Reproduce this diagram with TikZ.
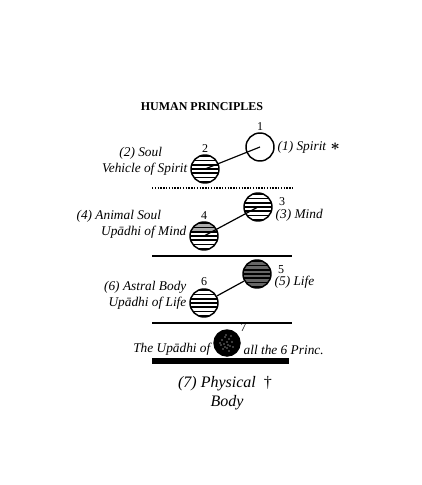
\documentclass[tikz,border=0pt]{standalone}
\usepackage{fontspec}
\setmainfont{Liberation Serif}
\usetikzlibrary{positioning}
\newcommand{\orbstripes}{%
  \foreach \k in {-3,...,3}
    \draw[line width=1pt] ([yshift=\k*3.1pt]path picture bounding box.west)
      -- ([yshift=\k*3.1pt]path picture bounding box.east);}
\tikzset{
  orb/.style     = {circle, draw, line width=1.1pt, minimum size=21pt, inner sep=0pt, fill=white},
  striped/.style = {orb, path picture={\orbstripes}},
  capped/.style  = {orb, path picture={
                     \fill[gray!65] (path picture bounding box.north west)
                       rectangle ([yshift=-6.5pt]path picture bounding box.north east);
                     \orbstripes}},
  dark/.style    = {orb, fill=gray!80!black, path picture={\orbstripes}},
  dense/.style   = {orb, fill=black, minimum size=19.5pt, path picture={
                     \foreach \dx/\dy in {-5/3,-2/6,2/4,5/1,-6/-2,-3/-1,0/1,3/-3,6/-4,
                                          -4/-6,0/-5,2/-8,-1/8,4/7,-7/0,1/-2,-2/-4}
                       \fill[white] ([shift={(\dx*0.75pt,\dy*0.75pt)}]path picture bounding box.center) circle (0.45pt);}},
  lab/.style     = {font=\normalsize\itshape, inner sep=1pt},
  num/.style     = {font=\small, inner sep=0.5pt},
  link/.style    = {line width=0.9pt},
  rule/.style    = {line width=1.1pt}
}
\begin{document}
\begin{tikzpicture}[x=0.75pt,y=-0.75pt]
    \useasboundingbox (0,0) rectangle (421,485);
    \node[font=\small\bfseries] (title) at (202,107) {HUMAN PRINCIPLES};
    % spirit and soul
    \node[orb] (c1) at (260,147) {};
    \node[striped] (c2) at (205,169) {};
    \draw[link] (c1.center)--(c2.center);
    \node[num,above=1pt of c1] (n1) {1};
    \node[num,above=1pt of c2] (n2) {2};
    \node[lab,right=1pt of c1] (spirit) {(1) Spirit\,\,{\large\boldmath$\ast$}};
    \node[lab,left=1pt of c2] (vehicle) {Vehicle of Spirit};
    \node[lab,anchor=south east] (soul) at ([xshift=-19pt,yshift=0pt]vehicle.north east) {(2) Soul};
    \draw[rule,densely dotted] (152,188)--(293,188);
    % mind
    \node[striped] (c3) at (258,207) {};
    \node[capped] (c4) at (204,236) {};
    \draw[link] (c3.center)--(c4.center);
    \node[lab,anchor=west] (mind) at ([xshift=1pt,yshift=-6pt]c3.east) {(3) Mind};
    \node[num,anchor=south west] (n3) at ([xshift=3pt,yshift=0.5pt]mind.north west) {3};
    \node[num,above=1pt of c4] (n4) {4};
    \node[lab,anchor=east] (updmind) at ([xshift=-1pt,yshift=3pt]c4.west) {Upādhi of Mind};
    \node[lab,anchor=south east] (animal) at ([xshift=-19pt,yshift=0pt]updmind.north east) {(4) Animal Soul};
    \draw[rule] (152,256)--(292,256);
    % life
    \node[dark] (c5) at (257,274) {};
    \node[striped] (c6) at (204,303) {};
    \draw[link] (c5)--(c6);
    \node[lab,anchor=west] (life) at ([xshift=1pt,yshift=-6.5pt]c5.east) {(5) Life};
    \node[num,anchor=south west] (n5) at ([xshift=3pt,yshift=0.5pt]life.north west) {5};
    \node[num,above=1pt of c6] (n6) {6};
    \node[lab,left=1pt of c6] (updlife) {Upādhi of Life};
    \node[lab,anchor=south east] (astral) at ([yshift=0pt]updlife.north east) {(6) Astral Body};
    \draw[rule] (152,323)--(292,323);
    % physical body
    \node[dense] (c7) at (227,343) {};
    \node[num,anchor=south west] (n7) at ([xshift=2pt,yshift=1pt]c7.north east) {7};
    \node[lab,anchor=east] (updall) at ([xshift=-1pt,yshift=-5pt]c7.west) {The Upādhi of};
    \node[lab,anchor=west] (princ) at ([xshift=1pt,yshift=-5pt]c7.east) {all the 6 Princ.};
    \draw[line width=4.5pt] (152,361)--(289,361);
    \node[font=\large\itshape] (phys) at (225,384) {(7) Physical\,\,\,\textup{†}};
    \node[font=\large\itshape] (body) at (227,403) {Body};
\end{tikzpicture}
\end{document}
